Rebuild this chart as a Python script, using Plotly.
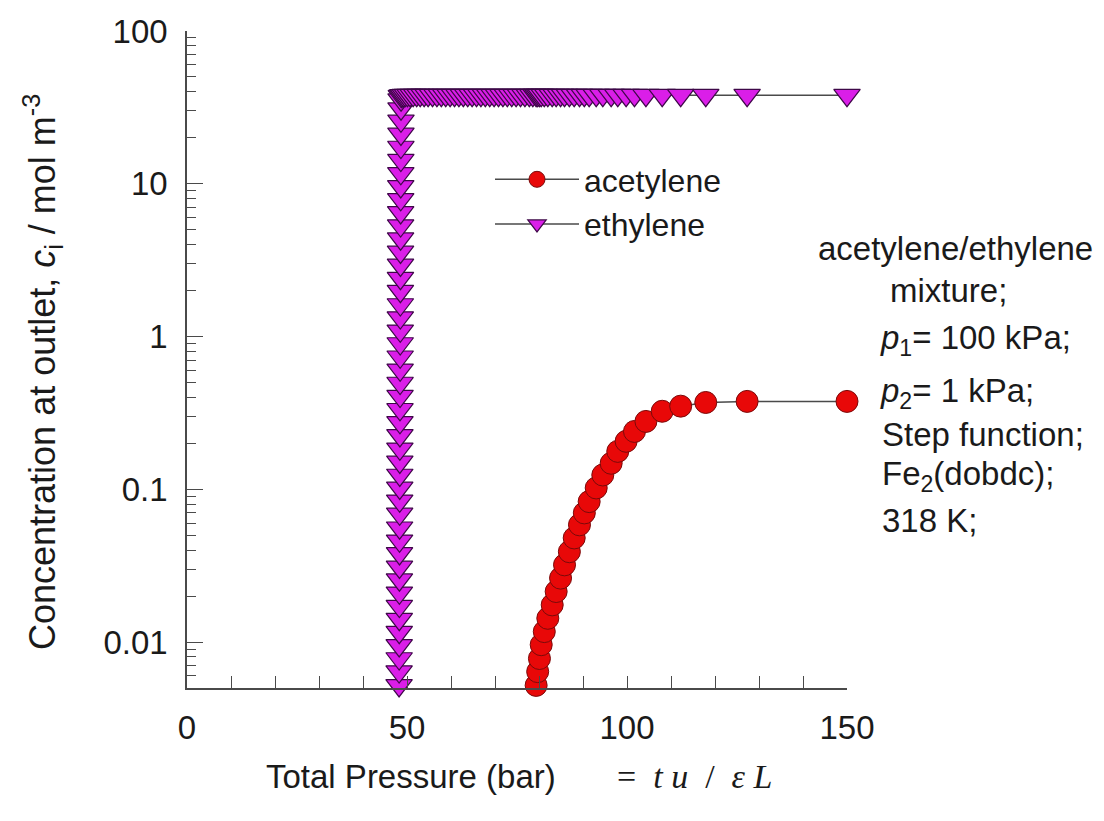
import plotly.graph_objects as go

# ---- data -------------------------------------------------------------
# Total pressure / dimensionless time at which each outlet sample is taken
acetylene_x = [79.35, 79.7, 80.1, 80.5, 81.2, 82.0, 83.0, 83.9, 84.9, 85.8,
               86.9, 88.0, 89.2, 90.3, 91.4, 93.0, 94.5, 96.4, 97.9, 99.8,
               101.7, 104.3, 108.0, 112.2, 117.9, 127.3, 150.0]
acetylene_c = [0.0052, 0.0064, 0.0078, 0.0096, 0.0117, 0.0143, 0.0175, 0.0214,
               0.0262, 0.032, 0.039, 0.048, 0.0585, 0.070, 0.083, 0.102, 0.124,
               0.148, 0.177, 0.206, 0.239, 0.278, 0.324, 0.350, 0.370, 0.376,
               0.376]

# ethylene: sharp breakthrough front followed by a flat plateau
ethylene_x = [48.20, 48.21, 48.22, 48.23, 48.24, 48.25, 48.26, 48.27, 48.28,
              48.29, 48.30, 48.31, 48.32, 48.33, 48.34, 48.35, 48.36, 48.37,
              48.38, 48.39, 48.40, 48.41, 48.42, 48.43, 48.44, 48.45, 48.46,
              48.47, 48.48, 48.49, 48.50, 48.51, 48.52, 48.53, 48.54, 48.55,
              48.56, 48.57, 48.58, 48.59, 48.60, 48.61, 48.62, 48.63, 48.64,
              48.65,
              48.7, 48.9, 49.2, 49.6, 50.1, 50.7, 51.4, 52.2, 53.0, 53.9,
              54.8, 55.8, 56.8, 57.8, 58.8, 59.8, 60.8, 61.8, 62.8, 63.8,
              64.8, 65.8, 66.8, 67.8, 68.8, 69.8, 70.8, 71.8, 72.8, 73.8,
              74.8, 75.8, 76.8, 77.8, 78.6,
              79.35, 79.7, 80.1, 80.5, 81.2, 82.0, 83.0, 83.9, 84.9, 85.8,
              86.9, 88.0, 89.2, 90.3, 91.4, 93.0, 94.5, 96.4, 97.9, 99.8,
              101.7, 104.3, 108.0, 112.2, 117.9, 127.3, 150.0]
ethylene_c = [0.0052, 0.0064, 0.0078, 0.0095, 0.0116, 0.0141, 0.0172, 0.021,
              0.0256, 0.031, 0.038, 0.046, 0.056, 0.069, 0.084, 0.102, 0.124,
              0.151, 0.184, 0.225, 0.274, 0.334, 0.407, 0.496, 0.605, 0.737,
              0.90, 1.09, 1.33, 1.62, 1.98, 2.41, 2.94, 3.58, 4.37, 5.32, 6.49,
              7.9, 9.6, 11.7, 14.3, 17.4, 21.2, 25.8, 31.0, 35.5,
              37.4, 37.7, 37.9, 38.0, 38.0, 38.0, 38.0, 38.0, 38.0, 38.0,
              38.0, 38.0, 38.0, 38.0, 38.0, 38.0, 38.0, 38.0, 38.0, 38.0,
              38.0, 38.0, 38.0, 38.0, 38.0, 38.0, 38.0, 38.0, 38.0, 38.0,
              38.0, 38.0, 38.0, 38.0, 38.0,
              38.0, 38.0, 38.0, 38.0, 38.0, 38.0, 38.0, 38.0, 38.0, 38.0,
              38.0, 38.0, 38.0, 38.0, 38.0, 38.0, 38.0, 38.0, 38.0, 38.0,
              38.0, 38.0, 38.0, 38.0, 38.0, 38.0, 38.0]

x_ticks = [0, 50, 100, 150]
y_ticks = [0.01, 0.1, 1, 10, 100]
y_ticktext = ["0.01", "0.1", "1", "10", "100"]
y_minor = [m * 10 ** e for e in (-3, -2, -1, 0, 1) for m in range(2, 10)]
y_minor = [v for v in y_minor if v > 0.005]

# ---- layout geometry (pixels) -----------------------------------------
W, H = 1104, 821
ML, MR, MT, MB = 187, 257, 31, 133
PW, PH = W - ML - MR, H - MT - MB

def px(x):
    return (x - ML) / PW

def py(y):
    return (H - MB - y) / PH

FONT = "Liberation Sans, Arial, Helvetica, sans-serif"
SERIF = "Liberation Serif, Times New Roman, serif"
INK = "#1a1a1a"
LINE = "#4a4a4a"

fig = go.Figure()

fig.add_trace(go.Scatter(
    x=acetylene_x, y=acetylene_c, name="acetylene", mode="lines+markers",
    line=dict(color=LINE, width=1.5),
    marker=dict(symbol="circle", size=22, color="#e80808",
                line=dict(color="#7a0a0a", width=1)),
    cliponaxis=False,
))
fig.add_trace(go.Scatter(
    x=ethylene_x, y=ethylene_c, name="ethylene", mode="lines+markers",
    line=dict(color=LINE, width=1.5),
    marker=dict(symbol="triangle-down", size=23, color="#da1ee8",
                line=dict(color="#3e0848", width=1.2)),
    cliponaxis=False,
))

fig.update_xaxes(
    range=[0, 150], tickvals=x_ticks, ticks="inside", ticklen=12,
    tickwidth=1.3, tickcolor=LINE, showline=True, linecolor=LINE,
    linewidth=1.5, showgrid=False, zeroline=False, ticklabelstandoff=10,
    tickfont=dict(family=FONT, size=33, color=INK),
    minor=dict(dtick=10, ticks="inside", ticklen=12, tickwidth=1.3,
               tickcolor=LINE, showgrid=False),
)
fig.update_yaxes(
    type="log", range=[-2.30103, 2], tickvals=y_ticks, ticktext=y_ticktext,
    ticks="inside", ticklen=16, tickwidth=1.3, tickcolor=LINE,
    showline=True, linecolor=LINE, linewidth=1.5, showgrid=False,
    zeroline=False, ticklabelstandoff=11,
    tickfont=dict(family=FONT, size=33, color=INK),
    minor=dict(tickmode="array", tickvals=y_minor, ticks="inside",
               ticklen=9, tickwidth=1.3, tickcolor=LINE, showgrid=False),
)

annotations = [
    dict(x=px(42), y=py(372), textangle=-90,
         text="Concentration at outlet, <i>c</i><sub>i</sub> / mol m<sup>-3</sup>",
         font=dict(family=FONT, size=36, color=INK)),
    dict(x=px(411), y=py(776), text="Total Pressure (bar)",
         font=dict(family=FONT, size=33, color=INK)),
    dict(x=px(615), y=py(776), xanchor="left",
         text="=  <i>t u</i>  /  <i>ε L</i>",
         font=dict(family=SERIF, size=34, color=INK)),
    dict(x=px(956), y=py(248), text="acetylene/ethylene",
         font=dict(family=FONT, size=33, color=INK)),
]
side_lines = [
    (888, 290, "mixture;"),
    (878, 340, "<i>p</i><sub>1</sub>= 100 kPa;"),
    (878, 393, "<i>p</i><sub>2</sub>= 1 kPa;"),
    (880, 434, "Step function;"),
    (880, 476, "Fe<sub>2</sub>(dobdc);"),
    (880, 520, "318 K;"),
]
for lx, ly, t in side_lines:
    annotations.append(dict(x=px(lx), y=py(ly), text=t, xanchor="left",
                            font=dict(family=FONT, size=33, color=INK)))
for a in annotations:
    a.setdefault("xref", "paper")
    a.setdefault("yref", "paper")
    a.setdefault("showarrow", False)
    a.setdefault("xanchor", "center")
    a.setdefault("yanchor", "middle")

fig.update_layout(
    width=W, height=H, margin=dict(l=ML, r=MR, t=MT, b=MB),
    paper_bgcolor="white", plot_bgcolor="white",
    annotations=annotations,
    legend=dict(x=px(490), y=py(152), xanchor="left", yanchor="top",
                bgcolor="rgba(0,0,0,0)", borderwidth=0,
                font=dict(family=FONT, size=32, color=INK),
                itemwidth=84, tracegroupgap=0),
)

fig.write_html("out.html")
